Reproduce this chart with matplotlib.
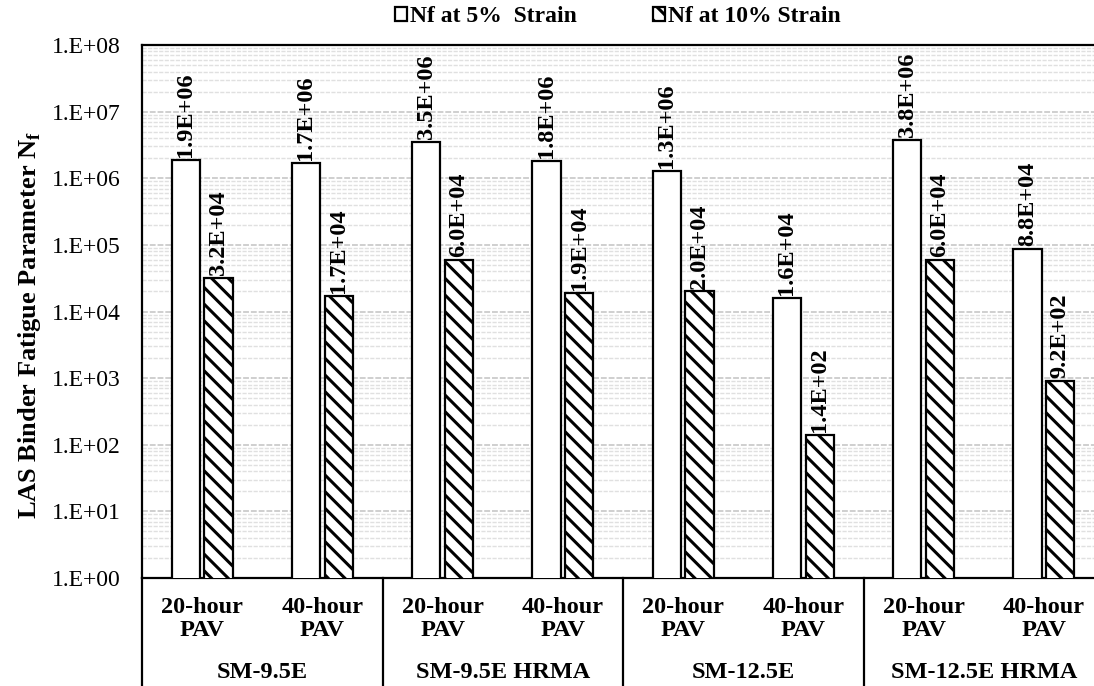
import matplotlib.pyplot as plt
import matplotlib.patches as mpatches
import numpy as np

plt.rcParams['font.family'] = ['Liberation Serif', 'DejaVu Serif']
plt.rcParams['hatch.linewidth'] = 2.2

# data
groups = ['SM-9.5E', 'SM-9.5E HRMA', 'SM-12.5E', 'SM-12.5E HRMA']
ages = ['20-hour\nPAV', '40-hour\nPAV']
nf_5 = [1.9e6, 1.7e6, 3.5e6, 1.8e6, 1.3e6, 1.6e4, 3.8e6, 8.8e4]
nf_10 = [3.2e4, 1.7e4, 6.0e4, 1.9e4, 2.0e4, 1.4e2, 6.0e4, 9.2e2]
series_names = ['Nf at 5%  Strain', 'Nf at 10% Strain']

n = len(nf_5)
x = np.arange(n)
w = 0.235
off = 0.137

fig = plt.figure(figsize=(10.94, 6.86), dpi=100)
ax = fig.add_axes([142/1094, 1-578/686, (1104-142)/1094, (578-45)/686])

b1 = ax.bar(x - off, nf_5, w, color='white', edgecolor='black', linewidth=1.6, zorder=3)
b2 = ax.bar(x + off, nf_10, w, color='white', edgecolor='black', linewidth=1.6,
            hatch='\\\\', zorder=3)

ax.set_yscale('log')
ax.set_ylim(1, 1e8)
ax.set_xlim(-0.5, n - 0.5)
ax.set_yticks([10.0**k for k in range(9)])
ax.set_yticklabels(['1.E+%02d' % k for k in range(9)], fontsize=17)
ax.tick_params(axis='y', length=0, pad=15)
ax.tick_params(axis='y', which='minor', length=0)
ax.set_xticks([])
ax.grid(True, which='major', axis='y', color='#cfcfcf', linestyle=(0, (3, 1)), linewidth=1.4, zorder=0)
ax.grid(True, which='minor', axis='y', color='#e0e0e0', linestyle=(0, (3, 1)), linewidth=1.0, zorder=0)
ax.spines['right'].set_visible(False)
for s in ['left', 'top', 'bottom']:
    ax.spines[s].set_linewidth(1.6)

# value labels
for xi, v in zip(x - off, nf_5):
    ax.annotate('%.1E' % v, (xi, v), xytext=(0, 2), textcoords='offset points',
                rotation=90, ha='center', va='bottom', fontsize=17.5, fontweight='bold')
for xi, v in zip(x + off, nf_10):
    ax.annotate('%.1E' % v, (xi, v), xytext=(0, 2), textcoords='offset points',
                rotation=90, ha='center', va='bottom', fontsize=17.5, fontweight='bold')

ax.set_ylabel('LAS Binder Fatigue Parameter N$_\\mathregular{f}$', fontsize=19,
              fontweight='bold')
ax.yaxis.set_label_coords(-0.103, 0.475)

# two-level category axis
trans = ax.get_xaxis_transform()
for i in range(n):
    ax.text(i, -0.077, ages[i % 2], transform=trans, ha='center', va='center',
            fontsize=17.5, fontweight='bold', linespacing=1.1)
for g, name in enumerate(groups):
    ax.text(2 * g + 0.5, -0.177, name, transform=trans, ha='center', va='center',
            fontsize=17.5, fontweight='bold')
for g in range(len(groups)):
    ax.plot([2 * g - 0.5, 2 * g - 0.5], [0, -0.25], transform=trans, color='black',
            linewidth=1.6, clip_on=False)

handles = [mpatches.Patch(facecolor='white', edgecolor='black', linewidth=1.6),
           mpatches.Patch(facecolor='white', edgecolor='black', linewidth=1.6, hatch='\\\\')]
fig.legend(handles, series_names, loc='center', bbox_to_anchor=(618/1094, 1-17/686), ncol=2,
           frameon=False, prop={'weight': 'bold', 'size': 17}, handlelength=0.5,
           handleheight=0.5, handletextpad=0.15, columnspacing=3.2)

fig.savefig('out.png', dpi=100)
